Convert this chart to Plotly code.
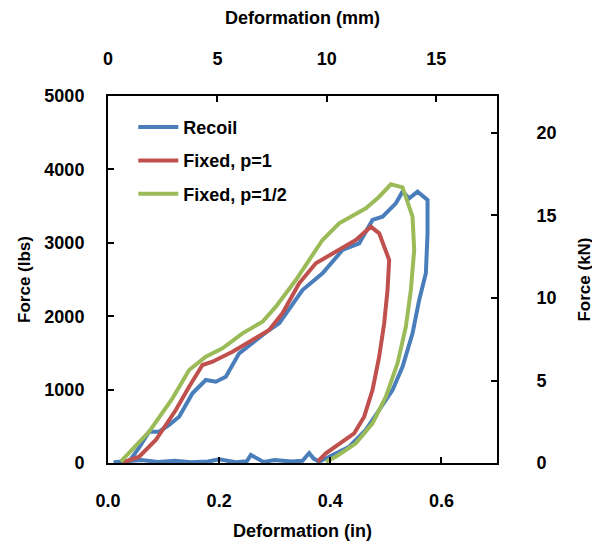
import plotly.graph_objects as go

# Deformation (in) / Force (lbs)
recoil_x = [0.038, 0.055, 0.074, 0.092, 0.110, 0.128, 0.152, 0.176, 0.194, 0.212, 0.236, 0.266,
            0.290, 0.308, 0.332, 0.350, 0.386, 0.422, 0.452, 0.476, 0.494, 0.518, 0.530, 0.542,
            0.557, 0.575, 0.575, 0.572, 0.560, 0.548, 0.530, 0.512, 0.488, 0.464, 0.434, 0.404,
            0.380, 0.370, 0.362, 0.350, 0.330, 0.300, 0.280, 0.257, 0.250, 0.230, 0.200, 0.180,
            0.150, 0.120, 0.090, 0.060, 0.030, 0.010]
recoil_y = [20, 200, 427, 427, 520, 631, 950, 1131, 1108, 1176, 1494, 1676,
            1812, 1903, 2176, 2357, 2584, 2902, 2993, 3311, 3356, 3538, 3697, 3606,
            3697, 3583, 3129, 2584, 2221, 1767, 1312, 995, 722, 450, 222, 109,
            18, 60, 136, 30, 20, 40, 15, 109, 25, 10, 50, 20,
            10, 30, 15, 40, 20, 10]

fixed1_x = [0.025, 0.056, 0.086, 0.122, 0.146, 0.170, 0.188, 0.224, 0.260, 0.290, 0.314, 0.344,
            0.374, 0.410, 0.446, 0.473, 0.488, 0.506, 0.503, 0.497, 0.488, 0.476, 0.461, 0.443,
            0.416, 0.392, 0.377]
fixed1_y = [0, 86, 313, 722, 1040, 1335, 1380, 1516, 1676, 1812, 2040, 2448,
            2721, 2879, 3038, 3220, 3129, 2766, 2357, 1903, 1448, 995, 631, 404,
            268, 132, 18]

fixed2_x = [0.023, 0.074, 0.116, 0.146, 0.176, 0.206, 0.242, 0.278, 0.302, 0.338, 0.386, 0.416,
            0.464, 0.488, 0.509, 0.530, 0.548, 0.551, 0.545, 0.536, 0.521, 0.500, 0.476, 0.446,
            0.410, 0.392]
fixed2_y = [18, 427, 881, 1267, 1448, 1562, 1767, 1925, 2130, 2493, 3038, 3266,
            3470, 3628, 3797, 3756, 3356, 2902, 2357, 1857, 1358, 903, 541, 268,
            86, 18]

IN_MAX = 0.7
LBS_MAX = 5000
MM_PER_IN = 25.4
KN_PER_LBS = 0.00444822

FAMILY = "Arial, Liberation Sans, sans-serif"
tick_font = dict(family=FAMILY, size=18, color="black", weight="bold")
xtitle_font = dict(family=FAMILY, size=18, color="black", weight="bold")
ytitle_font = dict(family=FAMILY, size=17, color="black", weight="bold")

fig = go.Figure()
fig.add_trace(go.Scatter(x=recoil_x, y=recoil_y, name="Recoil", mode="lines",
                         line=dict(color="#4A7EBB", width=4), legendgroup="a"))
fig.add_trace(go.Scatter(x=fixed1_x, y=fixed1_y, name="Fixed, p=1", mode="lines",
                         line=dict(color="#C0504D", width=4), legendgroup="b"))
fig.add_trace(go.Scatter(x=fixed2_x, y=fixed2_y, name="Fixed, p=1/2", mode="lines",
                         line=dict(color="#9BBB59", width=4), legendgroup="c"))
# empty trace so the secondary (mm / kN) axes get drawn
fig.add_trace(go.Scatter(x=[], y=[], xaxis="x2", yaxis="y2", showlegend=False))

axis_style = dict(showline=True, linecolor="black", linewidth=2, ticks="inside", ticklen=6,
                  tickwidth=2, tickcolor="black", showgrid=False, zeroline=False,
                  tickfont=tick_font, automargin=False)

fig.update_layout(
    width=600, height=549,
    margin=dict(l=100, r=111, t=88, b=94),
    plot_bgcolor="white", paper_bgcolor="white",
    showlegend=True,
    legend=dict(x=0.065, y=0.965, xanchor="left", yanchor="top", bgcolor="rgba(0,0,0,0)",
                font=dict(family=FAMILY, size=18, color="black", weight="bold"),
                tracegroupgap=7, itemwidth=40),
    xaxis=dict(range=[0, IN_MAX], tickvals=[0, 0.2, 0.4, 0.6], ticktext=["0.0", "0.2", "0.4", "0.6"],
               ticklabelstandoff=20,
               title=dict(text="Deformation (in)", font=xtitle_font, standoff=15), **axis_style),
    yaxis=dict(range=[0, LBS_MAX], dtick=1000, ticklabelstandoff=18,
               title=dict(text="Force (lbs)", font=ytitle_font, standoff=9), **axis_style),
    xaxis2=dict(range=[0, IN_MAX * MM_PER_IN], tickvals=[0, 5, 10, 15], overlaying="x", side="top",
                ticklabelstandoff=22,
                title=dict(text="Deformation (mm)", font=xtitle_font, standoff=25), **axis_style),
    yaxis2=dict(range=[0, LBS_MAX * KN_PER_LBS], tickvals=[0, 5, 10, 15, 20], overlaying="y",
                side="right", ticklabelstandoff=34,
                title=dict(text="Force (kN)", font=ytitle_font, standoff=22), **axis_style),
)

fig.write_html("out.html")
